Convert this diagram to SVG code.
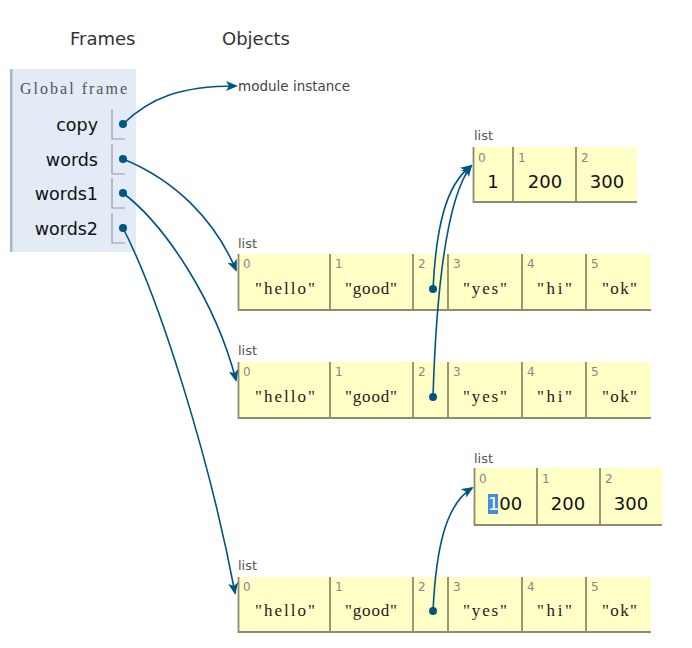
<svg xmlns="http://www.w3.org/2000/svg" width="692" height="648" viewBox="0 0 692 648">
<style>
.hdr{font-family:"DejaVu Sans",Verdana,sans-serif;font-size:18px;fill:#333}
.gf{font-family:"Liberation Serif",serif;font-size:16px;fill:#555}
.var{font-family:"DejaVu Sans",Verdana,sans-serif;font-size:17.5px;fill:#111;text-anchor:end}
.ptr{fill:none;stroke:#999;stroke-width:1.2}
.lbl{font-family:"DejaVu Sans",Verdana,sans-serif;font-size:13px;fill:#555}
.cell{fill:#ffffc6}
.div{fill:none;stroke:#8c8c70;stroke-width:1.8}
.idx{font-family:"DejaVu Sans",Verdana,sans-serif;font-size:12px;fill:#888}
.str{font-family:"Liberation Serif",serif;font-size:17px;fill:#222}
.num{font-family:"DejaVu Sans",Verdana,sans-serif;font-size:18px;fill:#111;text-anchor:middle}
.dot{fill:#005583}
.arr{fill:none;stroke:#005583;stroke-width:1.6;marker-end:url(#ah)}
</style>
<defs>
<marker id="ah" viewBox="0 0 12 10" refX="10" refY="5" markerWidth="12" markerHeight="10" markerUnits="userSpaceOnUse" orient="auto">
<path d="M0,0 L12,5 L0,10 L3,5 Z" fill="#005583"/>
</marker>
</defs>
<rect width="692" height="648" fill="#fff"/>
<text class="hdr" x="70" y="45">Frames</text>
<text class="hdr" x="222" y="45">Objects</text>

<g id="global-frame">
<rect x="10" y="69" width="126" height="183" fill="#e2ebf6"/>
<rect x="10" y="69" width="2.5" height="183" fill="#a8b8c8"/>
<text class="gf" x="20" y="94" textLength="107" lengthAdjust="spacing">Global frame</text>
<text class="var" x="98" y="131">copy</text>
<path class="ptr" d="M112,109 V139 H125"/>
<circle class="dot" cx="123" cy="124" r="4"/>
<text class="var" x="98" y="166">words</text>
<path class="ptr" d="M112,144 V174 H125"/>
<circle class="dot" cx="123" cy="159" r="4"/>
<text class="var" x="98" y="200">words1</text>
<path class="ptr" d="M112,178 V208 H125"/>
<circle class="dot" cx="123" cy="193" r="4"/>
<text class="var" x="98" y="235">words2</text>
<path class="ptr" d="M112,213 V243 H125"/>
<circle class="dot" cx="123" cy="228" r="4"/>
</g>

<g id="module-instance">
<text x="238" y="91" font-family="DejaVu Sans,Verdana,sans-serif" font-size="13.5" fill="#444">module instance</text>
</g>

<g id="list-top">
<text class="lbl" x="474" y="140">list</text>
<rect class="cell" x="473" y="147" width="164" height="55"/>
<path class="div" d="M473.5,147 V202 H637 M513,147 V202 M576,147 V202"/>
<text class="idx" x="478" y="162">0</text>
<text class="idx" x="518" y="162">1</text>
<text class="idx" x="581" y="162">2</text>
<text class="num" x="493" y="188">1</text>
<text class="num" x="545" y="188">200</text>
<text class="num" x="607" y="188">300</text>
</g>

<g id="list-words">
<text class="lbl" x="238" y="248">list</text>
<rect class="cell" x="238" y="254" width="413" height="56"/>
<path class="div" d="M238.5,254 V310 H651 M330,254 V310 M413,254 V310 M448,254 V310 M522,254 V310 M586,254 V310"/>
<text class="idx" x="243" y="268">0</text>
<text class="idx" x="335" y="268">1</text>
<text class="idx" x="418" y="268">2</text>
<text class="idx" x="453" y="268">3</text>
<text class="idx" x="527" y="268">4</text>
<text class="idx" x="591" y="268">5</text>
<text class="str" x="255" y="294" textLength="60" lengthAdjust="spacing">"hello"</text>
<text class="str" x="345" y="294" textLength="52" lengthAdjust="spacing">"good"</text>
<text class="str" x="463" y="294" textLength="44" lengthAdjust="spacing">"yes"</text>
<text class="str" x="537" y="294" textLength="35" lengthAdjust="spacing">"hi"</text>
<text class="str" x="602" y="294" textLength="35" lengthAdjust="spacing">"ok"</text>
<circle class="dot" cx="433" cy="289" r="4"/>
</g>

<g id="list-words1">
<text class="lbl" x="238" y="355">list</text>
<rect class="cell" x="238" y="362" width="413" height="56"/>
<path class="div" d="M238.5,362 V418 H651 M330,362 V418 M413,362 V418 M448,362 V418 M522,362 V418 M586,362 V418"/>
<text class="idx" x="243" y="376">0</text>
<text class="idx" x="335" y="376">1</text>
<text class="idx" x="418" y="376">2</text>
<text class="idx" x="453" y="376">3</text>
<text class="idx" x="527" y="376">4</text>
<text class="idx" x="591" y="376">5</text>
<text class="str" x="255" y="402" textLength="60" lengthAdjust="spacing">"hello"</text>
<text class="str" x="345" y="402" textLength="52" lengthAdjust="spacing">"good"</text>
<text class="str" x="463" y="402" textLength="44" lengthAdjust="spacing">"yes"</text>
<text class="str" x="537" y="402" textLength="35" lengthAdjust="spacing">"hi"</text>
<text class="str" x="602" y="402" textLength="35" lengthAdjust="spacing">"ok"</text>
<circle class="dot" cx="433" cy="397" r="4"/>
</g>

<g id="list-bottom-nums">
<text class="lbl" x="474" y="463">list</text>
<rect class="cell" x="474" y="468" width="188" height="57"/>
<path class="div" d="M474.5,468 V525 H662 M537,468 V525 M600,468 V525"/>
<text class="idx" x="479" y="483">0</text>
<text class="idx" x="542" y="483">1</text>
<text class="idx" x="605" y="483">2</text>
<rect x="488" y="494" width="10" height="20" fill="#3d8fe0"/>
<text class="num" x="505" y="510"><tspan fill="#fff">1</tspan>00</text>
<text class="num" x="568" y="510">200</text>
<text class="num" x="631" y="510">300</text>
</g>

<g id="list-words2">
<text class="lbl" x="238" y="570">list</text>
<rect class="cell" x="238" y="577" width="413" height="55"/>
<path class="div" d="M238.5,577 V632 H651 M330,577 V632 M413,577 V632 M448,577 V632 M522,577 V632 M586,577 V632"/>
<text class="idx" x="243" y="591">0</text>
<text class="idx" x="335" y="591">1</text>
<text class="idx" x="418" y="591">2</text>
<text class="idx" x="453" y="591">3</text>
<text class="idx" x="527" y="591">4</text>
<text class="idx" x="591" y="591">5</text>
<text class="str" x="255" y="616" textLength="60" lengthAdjust="spacing">"hello"</text>
<text class="str" x="345" y="616" textLength="52" lengthAdjust="spacing">"good"</text>
<text class="str" x="463" y="616" textLength="44" lengthAdjust="spacing">"yes"</text>
<text class="str" x="537" y="616" textLength="35" lengthAdjust="spacing">"hi"</text>
<text class="str" x="602" y="616" textLength="35" lengthAdjust="spacing">"ok"</text>
<circle class="dot" cx="433" cy="611" r="4"/>
</g>

<g id="connectors">
<path class="arr" d="M123,124 C150,98 180,86 236,86"/>
<path class="arr" d="M123,159 C175,180 215,220 236,270"/>
<path class="arr" d="M123,193 C165,225 215,300 236,380"/>
<path class="arr" d="M123,228 C160,300 210,460 235,593"/>
<path class="arr" d="M433,289 C436,230 445,185 471,166"/>
<path class="arr" d="M433,397 C436,300 445,200 471,166"/>
<path class="arr" d="M433,611 C436,550 445,505 472,488"/>
</g>
</svg>
